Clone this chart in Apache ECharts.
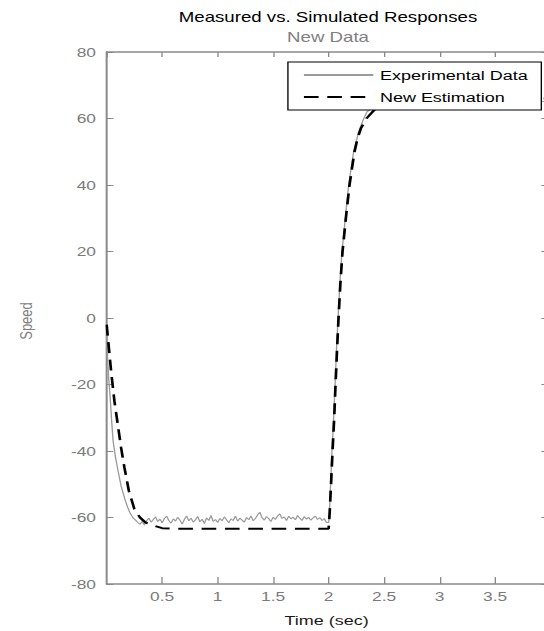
<!DOCTYPE html>
<html>
<head>
<meta charset="utf-8">
<title>Measured vs. Simulated Responses</title>
<script src="https://cdn.jsdelivr.net/npm/echarts@6/dist/echarts.min.js"></script>
<style>
  html, body { margin: 0; padding: 0; background: #fff; overflow: hidden; }
  /* the original figure is stretched sideways, so draw narrow and stretch */
  #chart { width: 408px; height: 631px; transform: scaleX(1.3333); transform-origin: 0 0; }
</style>
</head>
<body>
<div id="chart"></div>
<script>
// Time (sec) / Speed pairs
const experimentalData = [
  [0, -3], [0.008, -12], [0.018, -18], [0.03, -23], [0.045, -31], [0.058, -37],
  [0.08, -42], [0.103, -46], [0.13, -50.5], [0.166, -54.7], [0.19, -57], [0.21, -58.6],
  [0.24, -60.2], [0.26, -60.8], [0.28, -61.5], [0.30, -62.0], [0.32, -61.2], [0.34, -62.3],
  [0.36, -61.0], [0.38, -60.2], [0.40, -61.4], [0.42, -60.6], [0.44, -59.8], [0.46, -61.2],
  [0.48, -60.5], [0.50, -61.6], [0.52, -60.3], [0.54, -59.6], [0.56, -60.9], [0.58, -61.7],
  [0.60, -60.4], [0.62, -61.1], [0.64, -59.9], [0.66, -60.8], [0.68, -62.0], [0.70, -60.6],
  [0.72, -59.5], [0.74, -61.0], [0.76, -60.2], [0.78, -61.4], [0.80, -60.7], [0.82, -59.7],
  [0.84, -61.3], [0.86, -60.5], [0.88, -61.8], [0.90, -60.1], [0.92, -60.9], [0.94, -59.4],
  [0.96, -61.2], [0.98, -60.6], [1.00, -61.5], [1.02, -60.3], [1.04, -61.0], [1.06, -59.8],
  [1.08, -60.7], [1.10, -61.6], [1.12, -60.4], [1.14, -60.9], [1.16, -59.6], [1.18, -61.1],
  [1.20, -60.2], [1.22, -60.8], [1.24, -61.4], [1.26, -60.0], [1.28, -60.7], [1.30, -59.5],
  [1.32, -61.0], [1.34, -60.3], [1.36, -59.2], [1.38, -58.4], [1.40, -60.1], [1.42, -60.8],
  [1.44, -59.7], [1.46, -60.4], [1.48, -61.2], [1.50, -59.9], [1.52, -60.6], [1.54, -59.5],
  [1.56, -58.9], [1.58, -60.3], [1.60, -59.8], [1.62, -60.9], [1.64, -59.6], [1.66, -60.4],
  [1.68, -59.9], [1.70, -60.7], [1.72, -59.4], [1.74, -60.2], [1.76, -60.9], [1.78, -59.7],
  [1.80, -60.5], [1.82, -59.9], [1.84, -60.8], [1.86, -60.1], [1.88, -59.6], [1.90, -60.6],
  [1.92, -60.0], [1.94, -60.9], [1.96, -60.3], [1.98, -61.5], [2.0, -61.5], [2.005, -60],
  [2.015, -52], [2.03, -40], [2.045, -30], [2.058, -20], [2.07, -10], [2.085, 0],
  [2.1, 10], [2.12, 20], [2.15, 30], [2.18, 40], [2.225, 50], [2.27, 56],
  [2.31, 59.5], [2.345, 62], [2.4, 63.5], [2.5, 64.3], [2.55, 64.6], [2.6, 65.2],
  [2.7, 64.7], [2.8, 65.4], [2.9, 64.9], [3.0, 65.3], [3.1, 64.8], [3.2, 65.5],
  [3.3, 65.0], [3.4, 65.4], [3.5, 64.9], [3.6, 65.3], [3.7, 65.1], [3.8, 65.5],
  [3.9, 65.0], [4.0, 65.2]
]

const estimationData = [
  [0, -2], [0.02, -9], [0.04, -16], [0.07, -25], [0.1, -32], [0.13, -39],
  [0.16, -45], [0.2, -52], [0.25, -57.5], [0.3, -60], [0.35, -61.5], [0.43, -62.5],
  [0.5, -63.2], [0.6, -63.4], [2.0, -63.4], [2.01, -58], [2.02, -51], [2.035, -40],
  [2.05, -30], [2.062, -20], [2.075, -10], [2.089, 0], [2.105, 10], [2.125, 20],
  [2.155, 30], [2.188, 40], [2.21, 45], [2.233, 50], [2.26, 54], [2.29, 57],
  [2.34, 60], [2.41, 62.5], [2.47, 63.8], [2.55, 64.8], [2.7, 65.4], [3.0, 65.8],
  [4.0, 66]
]

const seriesNames = ['Experimental Data', 'New Estimation']

const FONT = '"Liberation Sans", Arial, sans-serif'
const AXIS_GREY = '#8a8a8a'
const LABEL_GREY = '#7a7a7a'

const chart = echarts.init(document.getElementById('chart'), null, { renderer: 'svg' })

const textEl = (text, x, y, size, color, rotation) => ({
  type: 'text',
  x: x,
  y: y,
  rotation: rotation || 0,
  silent: true,
  style: {
    text: text,
    fontSize: size,
    fontFamily: FONT,
    fill: color,
    textAlign: 'center',
    align: 'center',
    textVerticalAlign: 'middle',
    verticalAlign: 'middle'
  }
})

const axisCommon = {
  type: 'value',
  axisLine: { show: true, onZero: false, lineStyle: { color: AXIS_GREY, width: 1.5 } },
  axisTick: { show: true, inside: true, lineStyle: { color: AXIS_GREY, width: 1 } },
  splitLine: { show: false }
}

chart.setOption({
  animation: false,
  backgroundColor: '#fff',
  grid: {
    left: 80,
    right: -5,
    top: 52,
    bottom: 47,
    containLabel: false,
    outerBoundsMode: 'none'
  },
  legend: {
    data: seriesNames,
    orient: 'vertical',
    right: 2,
    top: 62,
    itemWidth: 52,
    itemHeight: 14,
    itemGap: 8,
    padding: [6, 10, 6, 11],
    backgroundColor: '#fff',
    borderColor: '#000',
    borderWidth: 1,
    borderRadius: 0,
    selectedMode: false,
    itemStyle: { opacity: 0 },
    textStyle: { fontSize: 13.5, fontFamily: FONT, color: '#000' }
  },
  xAxis: [
    {
      ...axisCommon,
      min: 0,
      max: 4,
      interval: 0.5,
      position: 'bottom',
      axisTick: { ...axisCommon.axisTick, length: 7 },
      axisLabel: {
        show: true,
        showMinLabel: false,
        showMaxLabel: false,
        margin: 6,
        fontSize: 13,
        fontFamily: FONT,
        color: LABEL_GREY,
        formatter: v => (v === 0 || v === 4 ? '' : String(v))
      }
    },
    {
      ...axisCommon,
      min: 0,
      max: 4,
      interval: 0.5,
      position: 'top',
      axisTick: { ...axisCommon.axisTick, length: 5 },
      axisLabel: { show: false }
    }
  ],
  yAxis: [
    {
      ...axisCommon,
      min: -80,
      max: 80,
      interval: 20,
      position: 'left',
      axisTick: { ...axisCommon.axisTick, length: 5 },
      axisLabel: { margin: 8, fontSize: 13, fontFamily: FONT, color: LABEL_GREY }
    },
    {
      ...axisCommon,
      min: -80,
      max: 80,
      interval: 20,
      position: 'right',
      axisTick: { ...axisCommon.axisTick, length: 7 },
      axisLabel: { show: false }
    }
  ],
  graphic: [
    textEl('Measured vs. Simulated Responses', 246, 17, 14, '#000'),
    textEl('New Data', 246, 37, 14, '#808080'),
    textEl('Time (sec)', 245, 620, 13.5, '#1a1a1a'),
    textEl('Speed', 19.5, 321, 13, '#808080', Math.PI / 2)
  ],
  series: [
    {
      name: seriesNames[0],
      type: 'line',
      data: experimentalData,
      symbol: 'none',
      showSymbol: false,
      z: 2,
      lineStyle: { color: '#9a9a9a', width: 1 },
      itemStyle: { color: '#9a9a9a' }
    },
    {
      name: seriesNames[1],
      type: 'line',
      data: estimationData,
      symbol: 'none',
      showSymbol: false,
      z: 3,
      lineStyle: { color: '#000', width: 2, type: [11, 6.5] },
      itemStyle: { color: '#000' }
    }
  ]
})
</script>
</body>
</html>
